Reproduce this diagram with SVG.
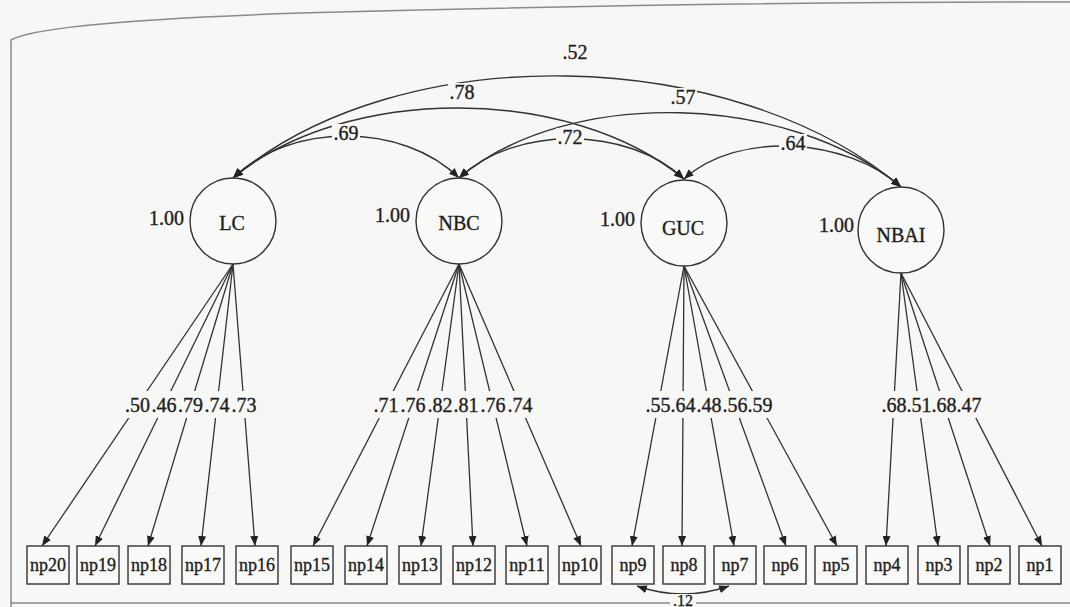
<svg xmlns="http://www.w3.org/2000/svg" width="1070" height="607" viewBox="0 0 1070 607" font-family="'Liberation Serif', 'DejaVu Serif', serif">
  <defs>
    <marker id="ah" viewBox="0 0 10 8" refX="10" refY="4" markerWidth="10" markerHeight="8" markerUnits="userSpaceOnUse" orient="auto-start-reverse">
      <path d="M0,0 L10,4 L0,8 z" fill="#222"/>
    </marker>
    <style>
      .bg { fill: #f7f7f5; }
      .frame { fill: none; stroke: #8a8a8a; stroke-width: 1.5; }
      .ln { fill: none; stroke: #333; stroke-width: 1.3; marker-end: url(#ah); }
      .arc { fill: none; stroke: #333; stroke-width: 1.4; marker-start: url(#ah); marker-end: url(#ah); }
      .lat { fill: #f9f9f7; stroke: #333; stroke-width: 1.4; }
      .obs { fill: #f9f9f7; stroke: #333; stroke-width: 1.4; }
      text { font-family: 'Liberation Serif', 'DejaVu Serif', serif; fill: #1e1e1e; stroke: #1e1e1e; stroke-width: 0.35; }
      .t20 { font-size: 20px; }
      .t18 { font-size: 18px; text-anchor: middle; }
      .mid { text-anchor: middle; }
      .end { text-anchor: end; }
      .lblbg { fill: #f7f7f5; }
    </style>
  </defs>

  <rect class="bg" x="0" y="0" width="1070" height="607"/>
  <path class="frame" d="M11,607 L11,40 Q40,22 300,13 Q700,2 1070,2"/>
  <line class="frame" x1="11" y1="603" x2="1070" y2="603"/>

  <g id="connectors">
    <path class="arc" d="M233,178 C400,36 734,45 901,187"/>
    <path class="arc" d="M233,178 C346,84 571,85 684,179"/>
    <path class="arc" d="M459,178 C569,85 791,94 901,187"/>
    <path class="arc" d="M233,178 C289.5,122 402.5,122 459,178"/>
    <path class="arc" d="M459,178 C515,125 628,126 684,179"/>
    <path class="arc" d="M684,179 C738,130 847,138 901,187"/>
    <line class="ln" x1="233" y1="264" x2="42" y2="546"/>
    <line class="ln" x1="233" y1="264" x2="95" y2="546"/>
    <line class="ln" x1="233" y1="264" x2="148" y2="546"/>
    <line class="ln" x1="233" y1="264" x2="201" y2="546"/>
    <line class="ln" x1="233" y1="264" x2="255" y2="546"/>
    <line class="ln" x1="459" y1="264" x2="313" y2="546"/>
    <line class="ln" x1="459" y1="264" x2="367" y2="546"/>
    <line class="ln" x1="459" y1="264" x2="421" y2="546"/>
    <line class="ln" x1="459" y1="264" x2="473" y2="546"/>
    <line class="ln" x1="459" y1="264" x2="527" y2="546"/>
    <line class="ln" x1="459" y1="264" x2="581" y2="546"/>
    <line class="ln" x1="684" y1="266" x2="632" y2="546"/>
    <line class="ln" x1="684" y1="266" x2="682" y2="546"/>
    <line class="ln" x1="684" y1="266" x2="734" y2="546"/>
    <line class="ln" x1="684" y1="266" x2="786" y2="546"/>
    <line class="ln" x1="684" y1="266" x2="837" y2="546"/>
    <line class="ln" x1="901" y1="273" x2="886" y2="546"/>
    <line class="ln" x1="901" y1="273" x2="938" y2="546"/>
    <line class="ln" x1="901" y1="273" x2="990" y2="546"/>
    <line class="ln" x1="901" y1="273" x2="1042" y2="546"/>
    <path class="arc" d="M637,586 Q683,602 729,586"/>
  </g>

  <g id="labels">
    <rect class="lblbg" x="561" y="41" width="28" height="19"/>
    <text class="t20 mid" x="575" y="59">.52</text>
    <rect class="lblbg" x="448" y="83" width="28" height="19"/>
    <text class="t20 mid" x="462" y="99">.78</text>
    <rect class="lblbg" x="669" y="88" width="28" height="19"/>
    <text class="t20 mid" x="683" y="104">.57</text>
    <rect class="lblbg" x="332" y="124" width="28" height="19"/>
    <text class="t20 mid" x="346" y="140">.69</text>
    <rect class="lblbg" x="556" y="128" width="28" height="19"/>
    <text class="t20 mid" x="570" y="144">.72</text>
    <rect class="lblbg" x="779" y="134" width="28" height="19"/>
    <text class="t20 mid" x="793" y="150">.64</text>

    <rect class="lblbg" x="123" y="391" width="136" height="27"/>
    <text class="t20 mid" x="137.5" y="412">.50</text>
    <text class="t20 mid" x="164" y="412">.46</text>
    <text class="t20 mid" x="190.5" y="412">.79</text>
    <text class="t20 mid" x="217" y="412">.74</text>
    <text class="t20 mid" x="244" y="412">.73</text>

    <rect class="lblbg" x="371" y="391" width="164" height="27"/>
    <text class="t20 mid" x="386" y="412">.71</text>
    <text class="t20 mid" x="413" y="412">.76</text>
    <text class="t20 mid" x="440" y="412">.82</text>
    <text class="t20 mid" x="466" y="412">.81</text>
    <text class="t20 mid" x="493" y="412">.76</text>
    <text class="t20 mid" x="520" y="412">.74</text>

    <rect class="lblbg" x="643" y="391" width="132" height="27"/>
    <text class="t20 mid" x="658" y="412">.55</text>
    <text class="t20 mid" x="683" y="412">.64</text>
    <text class="t20 mid" x="709" y="412">.48</text>
    <text class="t20 mid" x="735" y="412">.56</text>
    <text class="t20 mid" x="760" y="412">.59</text>

    <rect class="lblbg" x="880" y="391" width="104" height="27"/>
    <text class="t20 mid" x="894" y="412">.68</text>
    <text class="t20 mid" x="919" y="412">.51</text>
    <text class="t20 mid" x="944" y="412">.68</text>
    <text class="t20 mid" x="969" y="412">.47</text>

    <rect class="lblbg" x="670" y="594" width="26" height="13"/>
    <text class="mid" x="683" y="606" font-size="16">.12</text>
  </g>

  <g id="LC">
    <circle class="lat" cx="233" cy="221" r="43"/>
    <text class="t20 mid" x="232" y="230">LC</text>
    <text class="t20 end" x="184" y="225">1.00</text>
  </g>
  <g id="NBC">
    <circle class="lat" cx="459" cy="221" r="43"/>
    <text class="t20 mid" x="459" y="230">NBC</text>
    <text class="t20 end" x="410" y="222">1.00</text>
  </g>
  <g id="GUC">
    <circle class="lat" cx="684" cy="223" r="43"/>
    <text class="t20 mid" x="683" y="235">GUC</text>
    <text class="t20 end" x="635" y="226">1.00</text>
  </g>
  <g id="NBAI">
    <circle class="lat" cx="901" cy="230" r="43"/>
    <text class="t20 mid" x="901" y="242">NBAI</text>
    <text class="t20 end" x="854" y="232">1.00</text>
  </g>

  <g id="np20"><rect class="obs" x="27" y="546" width="42" height="38"/><text class="t18" x="48" y="571">np20</text></g>
  <g id="np19"><rect class="obs" x="77" y="546" width="42" height="38"/><text class="t18" x="98" y="571">np19</text></g>
  <g id="np18"><rect class="obs" x="128" y="546" width="42" height="38"/><text class="t18" x="149" y="571">np18</text></g>
  <g id="np17"><rect class="obs" x="182" y="546" width="42" height="38"/><text class="t18" x="203" y="571">np17</text></g>
  <g id="np16"><rect class="obs" x="236" y="546" width="42" height="38"/><text class="t18" x="257" y="571">np16</text></g>
  <g id="np15"><rect class="obs" x="291" y="546" width="42" height="38"/><text class="t18" x="312" y="571">np15</text></g>
  <g id="np14"><rect class="obs" x="345" y="546" width="42" height="38"/><text class="t18" x="366" y="571">np14</text></g>
  <g id="np13"><rect class="obs" x="399" y="546" width="42" height="38"/><text class="t18" x="420" y="571">np13</text></g>
  <g id="np12"><rect class="obs" x="453" y="546" width="42" height="38"/><text class="t18" x="474" y="571">np12</text></g>
  <g id="np11"><rect class="obs" x="506" y="546" width="42" height="38"/><text class="t18" x="527" y="571">np11</text></g>
  <g id="np10"><rect class="obs" x="559" y="546" width="42" height="38"/><text class="t18" x="580" y="571">np10</text></g>
  <g id="np9"><rect class="obs" x="612" y="546" width="42" height="38"/><text class="t18" x="633" y="571">np9</text></g>
  <g id="np8"><rect class="obs" x="663" y="546" width="42" height="38"/><text class="t18" x="684" y="571">np8</text></g>
  <g id="np7"><rect class="obs" x="714" y="546" width="42" height="38"/><text class="t18" x="735" y="571">np7</text></g>
  <g id="np6"><rect class="obs" x="764" y="546" width="42" height="38"/><text class="t18" x="785" y="571">np6</text></g>
  <g id="np5"><rect class="obs" x="815" y="546" width="42" height="38"/><text class="t18" x="836" y="571">np5</text></g>
  <g id="np4"><rect class="obs" x="866" y="546" width="42" height="38"/><text class="t18" x="887" y="571">np4</text></g>
  <g id="np3"><rect class="obs" x="918" y="546" width="42" height="38"/><text class="t18" x="939" y="571">np3</text></g>
  <g id="np2"><rect class="obs" x="968" y="546" width="42" height="38"/><text class="t18" x="989" y="571">np2</text></g>
  <g id="np1"><rect class="obs" x="1019" y="546" width="42" height="38"/><text class="t18" x="1040" y="571">np1</text></g>
</svg>
